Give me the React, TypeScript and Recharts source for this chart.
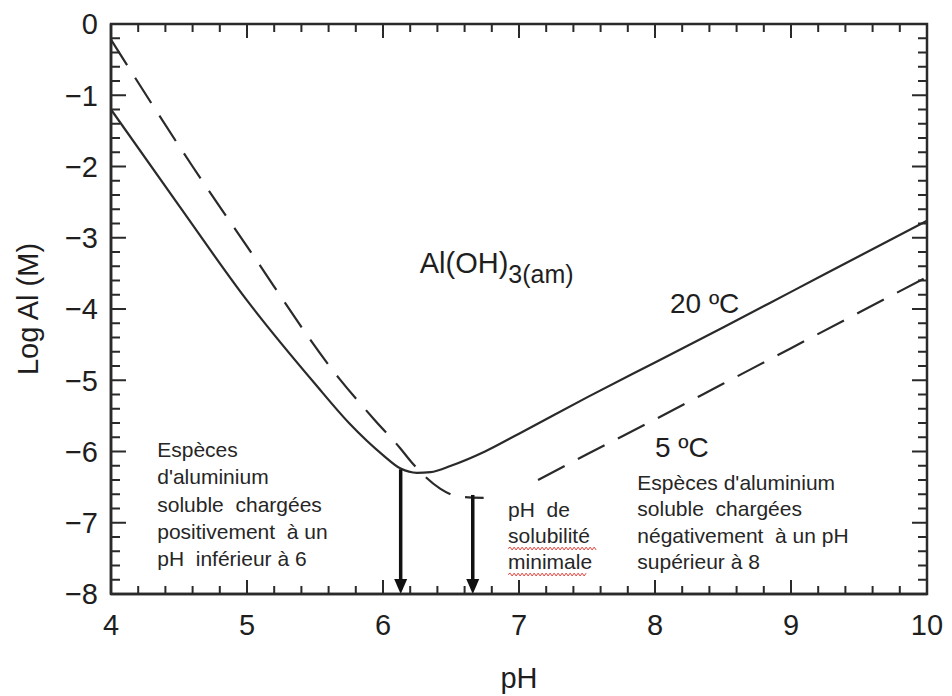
import React from 'react';
import { ComposedChart, Line, XAxis, YAxis, ReferenceLine, ReferenceDot } from 'recharts';

// axes
const phMajorTicks = [4, 5, 6, 7, 8, 9, 10];
const logAlMajorTicks = [-8, -7, -6, -5, -4, -3, -2, -1, 0];

// Al(OH)3(am) solubility, 20 ºC (solid)
const ph20 = [4.0, 4.5, 5.0, 5.5, 5.75, 6.0, 6.13, 6.25, 6.35, 6.5, 6.75, 7.0, 7.5, 8.0, 8.5, 9.0, 9.5, 10.0];
const logAl20 = [-1.2, -2.55, -3.88, -5.05, -5.6, -6.05, -6.24, -6.3, -6.29, -6.2, -6.0, -5.75, -5.24, -4.75, -4.26, -3.76, -3.26, -2.76];

// 5 ºC (dashed) - null where the curve is interrupted
const ph5 = [4.0, 4.6, 5.0, 5.68, 5.94, 6.125, 6.21, 6.42, 6.51, 6.6, 6.74, 6.9, 7.14, 7.5, 8.0, 8.5, 9.0, 9.5, 10.0];
const logAl5 = [-0.22, -2.0, -3.12, -4.98, -5.56, -5.95, -6.15, -6.52, -6.61, -6.64, -6.65, null, -6.4, -6.04, -5.55, -5.05, -4.55, -4.05, -3.55];

// arrows: pH of minimum solubility
const arrowPh = [6.13, 6.66];
const arrowFrom = [-6.25, -6.61];
const arrowTo = -8;

const leftNote = ["Espèces", "d'aluminium", "soluble  chargées", "positivement  à un", "pH  inférieur à 6"];
const midNote = ['pH  de', 'solubilité', 'minimale'];
const rightNote = ["Espèces d'aluminium", 'soluble  chargées', 'négativement  à un pH', 'supérieur à 8'];

const FONT = "'Liberation Sans', Arial, Helvetica, sans-serif";
const INK = '#2a2a2a';
const TEXT = '#1e1e1e';

const CHART_W = 952;
const CHART_H = 696;
const MARGIN = { top: 24, right: 25, bottom: 0, left: 0 };
const X_AXIS_H = 102;
const Y_AXIS_W = 111;
const PLOT_H = CHART_H - MARGIN.top - MARGIN.bottom - X_AXIS_H;
const PLOT_W = CHART_W - MARGIN.left - MARGIN.right - Y_AXIS_W;

const PH_MIN = phMajorTicks[0];
const PH_MAX = phMajorTicks[phMajorTicks.length - 1];
const LOG_MIN = logAlMajorTicks[0];
const LOG_MAX = logAlMajorTicks[logAlMajorTicks.length - 1];

const withMinor = (major: number[]) => {
  const out: number[] = [];
  for (let i = 0; i < major.length - 1; i++) {
    for (let k = 0; k < 5; k++) out.push(Math.round((major[i] + (k * (major[i + 1] - major[i])) / 5) * 10) / 10);
  }
  out.push(major[major.length - 1]);
  return out;
};
const phTicks = withMinor(phMajorTicks);
const logAlTicks = withMinor(logAlMajorTicks);

const data20 = ph20.map((ph, i) => ({ ph, logAl: logAl20[i] }));
const data5 = ph5.map((ph, i) => ({ ph, logAl: logAl5[i] }));

const fmt = (v: number) => (v < 0 ? `\u2212${Math.abs(v)}` : `${v}`);

const BottomTick = (props: any) => {
  const v = Number(props.payload.value);
  if (!phMajorTicks.includes(v)) return <g />;
  return (
    <text x={props.x} y={Number(props.y) + 41} textAnchor="middle" fontSize={29} fontFamily={FONT} fill={TEXT}>
      {v}
    </text>
  );
};

const LeftTick = (props: any) => {
  const v = Number(props.payload.value);
  if (!logAlMajorTicks.includes(v)) return <g />;
  return (
    <text x={Number(props.x) - 13} y={props.y} dy="0.36em" textAnchor="end" fontSize={29} fontFamily={FONT} fill={TEXT}>
      {fmt(v)}
    </text>
  );
};

// box and inward ticks on all four sides, laid over the chart's plot area
const BoxOverlay = () => {
  const left = MARGIN.left + Y_AXIS_W;
  const top = MARGIN.top;
  const right = left + PLOT_W;
  const bottom = top + PLOT_H;
  const px = (v: number) => left + ((v - PH_MIN) / (PH_MAX - PH_MIN)) * PLOT_W;
  const py = (v: number) => bottom - ((v - LOG_MIN) / (LOG_MAX - LOG_MIN)) * PLOT_H;
  let d = '';
  phTicks.forEach((v) => {
    const len = phMajorTicks.includes(v) ? 14 : 8;
    const x = px(v);
    d += `M${x},${bottom}V${bottom - len}M${x},${top}V${top + len}`;
  });
  logAlTicks.forEach((v) => {
    const len = logAlMajorTicks.includes(v) ? 15 : 9;
    const y = py(v);
    d += `M${left},${y}H${left + len}M${right},${y}H${right - len}`;
  });
  return (
    <svg
      width={CHART_W}
      height={CHART_H}
      style={{ position: 'absolute', left: 0, top: 0, pointerEvents: 'none' }}
    >
      <rect x={left} y={top} width={PLOT_W} height={PLOT_H} fill="none" stroke={INK} strokeWidth={2.5} />
      <path d={d} stroke={INK} strokeWidth={2} fill="none" />
    </svg>
  );
};

const ArrowShape = (props: any) => {
  const { x1, y1, x2, y2 } = props;
  const head = 15;
  return (
    <g>
      <line x1={x1} y1={y1} x2={x2} y2={y2 - head + 2} stroke="#111" strokeWidth={3.5} />
      <polygon points={`${x2},${y2} ${x2 - 6.5},${y2 - head} ${x2 + 6.5},${y2 - head}`} fill="#111" />
    </g>
  );
};

const wavy = (x0: number, len: number, y: number) => {
  let d = `M${x0},${y}`;
  let up = true;
  for (let x = x0 + 2; x <= x0 + len; x += 2) {
    d += ` L${x},${y + (up ? -1.4 : 1.4)}`;
    up = !up;
  }
  return d;
};

const noteShape = (lines: string[], lineGap: number, underline: number[] = []) => (props: any) => {
  const { cx, cy } = props;
  return (
    <g>
      {lines.map((t, i) => (
        <text
          key={t}
          x={cx}
          y={cy + i * lineGap}
          fontSize={21}
          fontFamily={FONT}
          fill="#262626"
          style={{ whiteSpace: 'pre' }}
        >
          {t}
        </text>
      ))}
      {underline.map((len, i) =>
        len > 0 ? (
          <path key={i} d={wavy(cx, len, cy + i * lineGap + 5.5)} stroke="#e0403a" strokeWidth={1} fill="none" />
        ) : null
      )}
    </g>
  );
};

const plainText = (label: string, size: number) => (props: any) => (
  <text x={props.cx} y={props.cy} fontSize={size} fontFamily={FONT} fill={TEXT}>
    {label}
  </text>
);

const speciesShape = (props: any) => (
  <text x={props.cx} y={props.cy} fontSize={29} fontFamily={FONT} fill={TEXT}>
    Al(OH)
    <tspan fontSize={25} dy={10}>3(am)</tspan>
  </text>
);

const XTitle = (p: any) => {
  const vb = p.viewBox;
  return (
    <text x={vb.x + vb.width / 2} y={vb.y + 94} textAnchor="middle" fontSize={29} fontFamily={FONT} fill={TEXT}>
      pH
    </text>
  );
};

const YTitle = (p: any) => {
  const vb = p.viewBox;
  const cx = vb.x + 28;
  const cy = vb.y + vb.height / 2;
  return (
    <text
      x={cx}
      y={cy}
      dy="0.36em"
      transform={`rotate(-90, ${cx}, ${cy})`}
      textAnchor="middle"
      fontSize={29}
      fontFamily={FONT}
      fill={TEXT}
    >
      Log Al (M)
    </text>
  );
};

export default function App() {
  return (
    <div style={{ position: 'absolute', left: 0, top: 0, width: CHART_W, height: CHART_H, background: '#fff' }}>
      <ComposedChart width={CHART_W} height={CHART_H} margin={MARGIN}>
        <XAxis
          dataKey="ph"
          type="number"
          domain={[PH_MIN, PH_MAX]}
          ticks={phTicks}
          interval={0}
          allowDataOverflow
          height={X_AXIS_H}
          tickSize={0}
          tickMargin={0}
          tickLine={false}
          axisLine={{ stroke: INK, strokeWidth: 2.5 }}
          tick={(p: any) => <BottomTick {...p} />}
          label={(p: any) => <XTitle {...p} />}
        />
        <YAxis
          type="number"
          domain={[LOG_MIN, LOG_MAX]}
          ticks={logAlTicks}
          interval={0}
          allowDataOverflow
          width={Y_AXIS_W}
          tickSize={0}
          tickMargin={0}
          tickLine={false}
          axisLine={{ stroke: INK, strokeWidth: 2.5 }}
          tick={(p: any) => <LeftTick {...p} />}
          label={(p: any) => <YTitle {...p} />}
        />

        <Line
          data={data20}
          dataKey="logAl"
          type="monotone"
          stroke={INK}
          strokeWidth={2.2}
          dot={false}
          activeDot={false}
          isAnimationActive={false}
        />
        <Line
          data={data5}
          dataKey="logAl"
          type="monotone"
          stroke={INK}
          strokeWidth={2.2}
          strokeDasharray="30 15"
          dot={false}
          activeDot={false}
          connectNulls={false}
          isAnimationActive={false}
        />

        {arrowPh.map((ph, i) => (
          <ReferenceLine
            key={ph}
            segment={[
              { x: ph, y: arrowFrom[i] },
              { x: ph, y: arrowTo },
            ]}
            shape={ArrowShape}
          />
        ))}

        <ReferenceDot x={6.27} y={-3.5} r={0} shape={speciesShape} />
        <ReferenceDot x={8.11} y={-4.06} r={0} shape={plainText('20 ºC', 28)} />
        <ReferenceDot x={8.0} y={-6.08} r={0} shape={plainText('5 ºC', 28)} />
        <ReferenceDot x={4.34} y={-6.08} r={0} shape={noteShape(leftNote, 27.2)} />
        <ReferenceDot x={6.92} y={-6.92} r={0} shape={noteShape(midNote, 26, [0, 89, 79])} />
        <ReferenceDot x={7.87} y={-6.54} r={0} shape={noteShape(rightNote, 26.3)} />
      </ComposedChart>
      <BoxOverlay />
    </div>
  );
}
